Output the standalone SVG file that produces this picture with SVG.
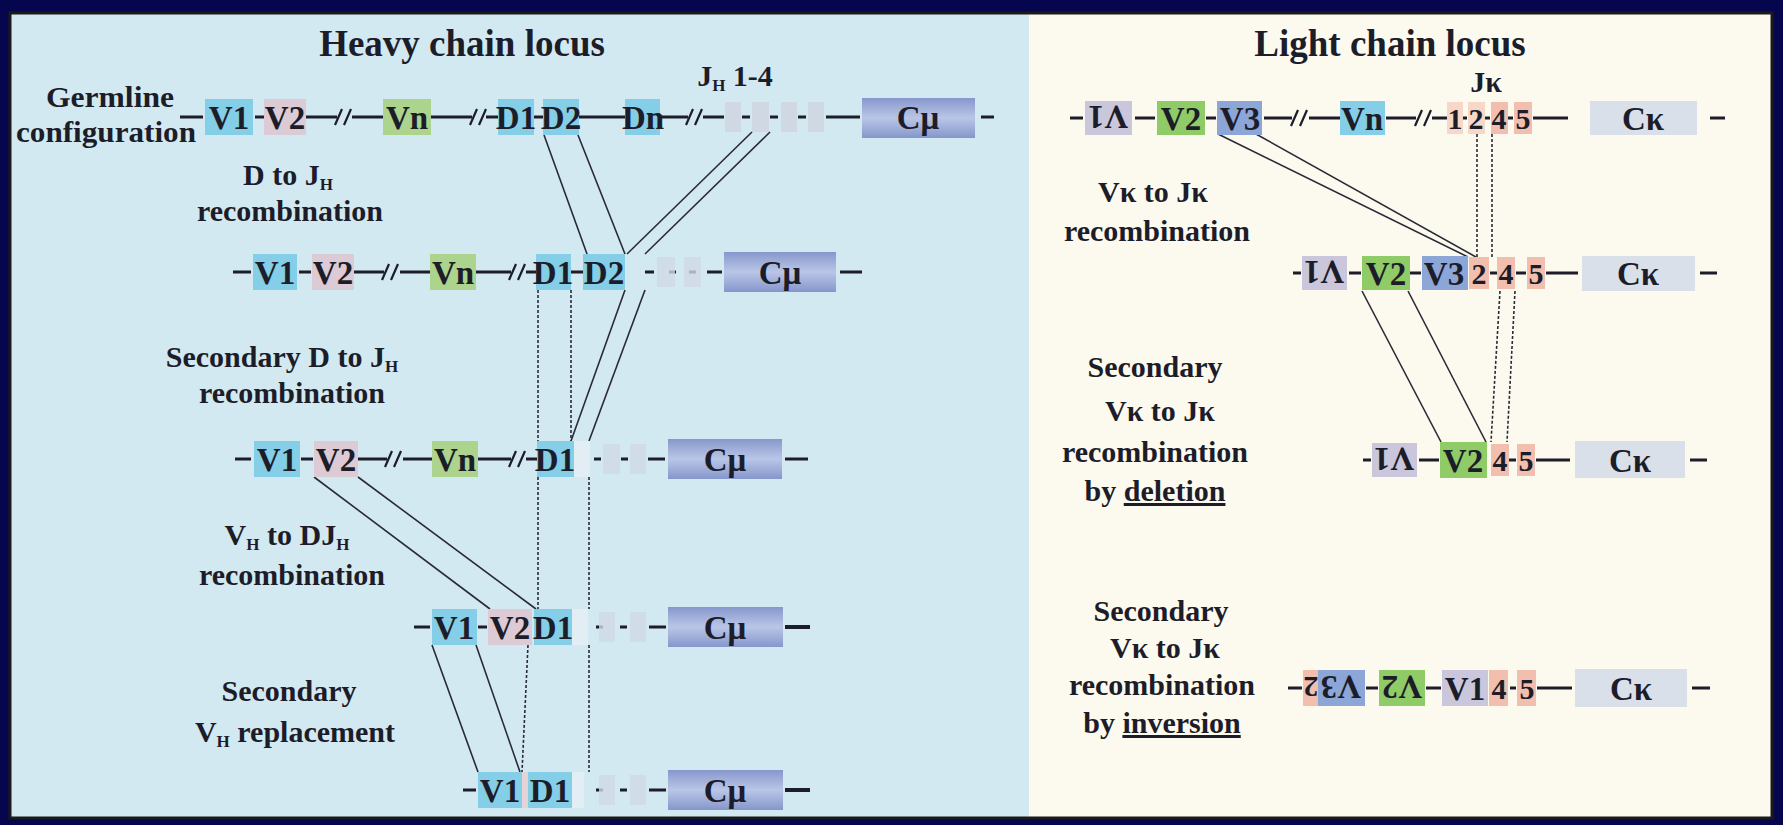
<svg xmlns="http://www.w3.org/2000/svg" xmlns:xlink="http://www.w3.org/1999/xlink" width="1783" height="825" viewBox="0 0 1783 825">
<style>
.bb{stroke:#1d1d2a;stroke-width:3;fill:none}
.cn{stroke:#2a2a36;stroke-width:1.6;fill:none}
.dt{stroke:#2a2a36;stroke-width:1.6;fill:none;stroke-dasharray:3 2}
.el{font-family:"Liberation Serif","Times New Roman",serif;font-weight:bold;font-size:33px;fill:#1d1d2a;text-anchor:middle}
.dg{font-family:"Liberation Serif","Times New Roman",serif;font-weight:bold;font-size:30px;fill:#1d1d2a;text-anchor:middle}
.lb{font-family:"Liberation Serif","Times New Roman",serif;font-weight:bold;font-size:30px;fill:#1d1d2a;text-anchor:middle}
.tt{font-family:"Liberation Serif","Times New Roman",serif;font-weight:bold;font-size:37px;fill:#1d1d2a;text-anchor:middle}
.cy{fill:#84cee7}.pk{fill:#dccbd4}.gn{fill:#acd48c}.jp{fill:#cfd8e3}
.lv{fill:#cac7dc}.lg{fill:#8fcc68}.lbu{fill:#8ca6d8}.jr{fill:#f2bfae}.ck{fill:#d9e0ea}
.cm{fill:url(#gcm)}
</style>
<defs>
<linearGradient id="gcm" x1="0" y1="0" x2="0" y2="1">
<stop offset="0" stop-color="#8797cc"/>
<stop offset="0.5" stop-color="#bac6e7"/>
<stop offset="1" stop-color="#8596cb"/>
</linearGradient>
<path id="sl" d="M-10,8 L-3,-8 M-1,8 L6,-8" stroke="#1d1d2a" stroke-width="2.2" fill="none"/>
</defs>
<rect x="0" y="0" width="1783" height="825" fill="#06064f"/>
<rect x="10" y="13" width="1019" height="805" fill="#d3e9f2"/>
<rect x="1029" y="13" width="743" height="805" fill="#fcf9ef"/>
<rect x="10" y="13" width="1762" height="805" fill="none" stroke="#1a1a1a" stroke-width="3"/>

<g id="titles">
<text class="tt" x="462" y="56">Heavy chain locus</text>
<text class="tt" x="1390" y="56">Light chain locus</text>
</g>

<g id="labels">
<text class="lb" x="110" y="107" font-size="25" textLength="128" lengthAdjust="spacingAndGlyphs">Germline</text>
<text class="lb" x="106" y="142" font-size="25" textLength="180" lengthAdjust="spacingAndGlyphs">configuration</text>
<text class="lb" x="288" y="185">D to J<tspan font-size="17" dy="5">H</tspan></text>
<text class="lb" x="290" y="221">recombination</text>
<text class="lb" x="282" y="367">Secondary D to J<tspan font-size="17" dy="5">H</tspan></text>
<text class="lb" x="292" y="403">recombination</text>
<text class="lb" x="287" y="545">V<tspan font-size="17" dy="5">H</tspan><tspan dy="-5"> to DJ</tspan><tspan font-size="17" dy="5">H</tspan></text>
<text class="lb" x="292" y="585">recombination</text>
<text class="lb" x="289" y="701">Secondary</text>
<text class="lb" x="295" y="742">V<tspan font-size="17" dy="5">H</tspan><tspan dy="-5"> replacement</tspan></text>
<text class="lb" x="735" y="86" text-anchor="start">J<tspan font-size="17" dy="5">H</tspan><tspan dy="-5"> 1-4</tspan></text>
<text class="lb" x="1486" y="92">Jκ</text>
<text class="lb" x="1153" y="202">Vκ to Jκ</text>
<text class="lb" x="1157" y="241">recombination</text>
<text class="lb" x="1155" y="377">Secondary</text>
<text class="lb" x="1160" y="421">Vκ to Jκ</text>
<text class="lb" x="1155" y="462">recombination</text>
<text class="lb" x="1155" y="501">by <tspan style="text-decoration:underline">deletion</tspan></text>
<text class="lb" x="1161" y="621">Secondary</text>
<text class="lb" x="1165" y="658">Vκ to Jκ</text>
<text class="lb" x="1162" y="695">recombination</text>
<text class="lb" x="1162" y="733">by <tspan style="text-decoration:underline">inversion</tspan></text>
</g>

<g id="connectors">
<line class="cn" x1="544" y1="135" x2="587" y2="254"/>
<line class="cn" x1="578" y1="135" x2="625" y2="254"/>
<line class="cn" x1="752" y1="132" x2="627" y2="254"/>
<line class="cn" x1="770" y1="132" x2="645" y2="254"/>
<line class="cn" x1="625" y1="290" x2="571" y2="441"/>
<line class="cn" x1="645" y1="290" x2="589" y2="441"/>
<line class="dt" x1="538" y1="290" x2="538" y2="441"/>
<line class="dt" x1="538" y1="477" x2="538" y2="609"/>
<line class="dt" x1="571" y1="290" x2="571" y2="441"/>
<line class="dt" x1="589" y1="477" x2="589" y2="609"/>
<line class="dt" x1="589" y1="645" x2="589" y2="772"/>
<line class="cn" x1="314" y1="477" x2="490" y2="609"/>
<line class="cn" x1="358" y1="477" x2="536" y2="609"/>
<line class="cn" x1="432" y1="645" x2="478" y2="772"/>
<line class="cn" x1="476" y1="645" x2="520" y2="772"/>
<line class="dt" x1="528" y1="645" x2="522" y2="772"/>
<line class="cn" x1="1218" y1="134" x2="1468" y2="257"/>
<line class="cn" x1="1256" y1="134" x2="1476" y2="257"/>
<line class="dt" x1="1477" y1="134" x2="1477" y2="257"/>
<line class="dt" x1="1492" y1="134" x2="1492" y2="257"/>
<line class="cn" x1="1362" y1="291" x2="1441" y2="442"/>
<line class="cn" x1="1408" y1="291" x2="1486" y2="442"/>
<line class="dt" x1="1500" y1="291" x2="1491" y2="442"/>
<line class="dt" x1="1515" y1="291" x2="1507" y2="442"/>
</g>

<g id="heavy-germline">
<path class="bb" d="M180,117H203 M255,117H264 M306,117H337 M352,117H383 M431,117H472 M486,117H498 M534,117H543 M579,117H625 M660,117H688 M703,117H724 M742,117H750 M770,117H778 M798,117H806 M826,117H860 M981,117H994"/>
<use href="#sl" x="345" y="117"/><use href="#sl" x="480" y="117"/><use href="#sl" x="696" y="117"/>
<g id="g-V1"><rect class="cy" x="205" y="99" width="48" height="36"/><text class="el" x="229" y="129">V1</text></g>
<g id="g-V2"><rect class="pk" x="264" y="99" width="42" height="36"/><text class="el" x="285" y="129">V2</text></g>
<g id="g-Vn"><rect class="gn" x="383" y="99" width="48" height="36"/><text class="el" x="407" y="129">Vn</text></g>
<g id="g-D1"><rect class="cy" x="498" y="99" width="36" height="36"/><text class="el" x="516" y="129" font-size="31">D1</text></g>
<g id="g-D2"><rect class="cy" x="543" y="99" width="36" height="36"/><text class="el" x="561" y="129" font-size="31">D2</text></g>
<g id="g-Dn"><rect class="cy" x="625" y="99" width="35" height="36"/><text class="el" x="643" y="129" font-size="31">Dn</text></g>
<g id="g-J"><rect class="jp" x="725" y="102" width="16" height="30"/><rect class="jp" x="752" y="102" width="17" height="30"/><rect class="jp" x="781" y="102" width="16" height="30"/><rect class="jp" x="808" y="102" width="16" height="30"/></g>
<g id="g-Cmu"><rect class="cm" x="862" y="98" width="113" height="40"/><text class="el" x="918" y="129">Cμ</text></g>
</g>

<g id="heavy-DJ">
<path class="bb" d="M233,272H251 M299,272H311 M354,272H384 M400,272H430 M476,272H511 M526,272H536 M571,272H583 M645,272H654 M669,272H676 M689,272H696 M707,272H722 M840,272H862"/>
<use href="#sl" x="392" y="272"/><use href="#sl" x="519" y="272"/>
<g id="dj-V1"><rect class="cy" x="253" y="254" width="44" height="36"/><text class="el" x="275" y="284">V1</text></g>
<g id="dj-V2"><rect class="pk" x="312" y="254" width="42" height="36"/><text class="el" x="333" y="284">V2</text></g>
<g id="dj-Vn"><rect class="gn" x="430" y="254" width="46" height="36"/><text class="el" x="453" y="284">Vn</text></g>
<g id="dj-D1"><rect class="cy" x="536" y="254" width="35" height="36"/><text class="el" x="553" y="284" font-size="31">D1</text></g>
<g id="dj-D2"><rect class="cy" x="583" y="254" width="42" height="36"/><text class="el" x="604" y="284" font-size="31">D2</text></g>
<g id="dj-J"><rect class="jp" x="657" y="257" width="18" height="30" opacity="0.8"/><rect class="jp" x="684" y="257" width="17" height="30" opacity="0.8"/></g>
<g id="dj-Cmu"><rect class="cm" x="724" y="252" width="112" height="40"/><text class="el" x="780" y="284">Cμ</text></g>
</g>

<g id="heavy-secDJ">
<path class="bb" d="M235,459H251 M301,459H313 M358,459H387 M403,459H432 M478,459H511 M526,459H537 M594,459H601 M621,459H628 M648,459H665 M785,459H808"/>
<use href="#sl" x="395" y="459"/><use href="#sl" x="519" y="459"/>
<g id="s-V1"><rect class="cy" x="254" y="441" width="46" height="36"/><text class="el" x="277" y="471">V1</text></g>
<g id="s-V2"><rect class="pk" x="314" y="441" width="44" height="36"/><text class="el" x="336" y="471">V2</text></g>
<g id="s-Vn"><rect class="gn" x="432" y="441" width="46" height="36"/><text class="el" x="455" y="471">Vn</text></g>
<g id="s-D1"><rect class="cy" x="537" y="441" width="37" height="36"/><rect x="574" y="441" width="16" height="36" fill="#e3eef4"/><text class="el" x="555" y="471" font-size="31">D1</text></g>
<g id="s-J"><rect class="jp" x="603" y="444" width="17" height="30" opacity="0.8"/><rect class="jp" x="630" y="444" width="16" height="30" opacity="0.8"/></g>
<g id="s-Cmu"><rect class="cm" x="668" y="439" width="114" height="40"/><text class="el" x="725" y="471">Cμ</text></g>
</g>

<g id="heavy-VDJ">
<path class="bb" d="M414,627H430 M478,627H487 M596,627H603 M620,627H627 M649,627H666"/>
<path d="M785,627H810" stroke="#1d1d2a" stroke-width="4"/>
<g id="v-V1"><rect class="cy" x="432" y="609" width="45" height="36"/><text class="el" x="454" y="639">V1</text></g>
<g id="v-V2"><rect class="pk" x="488" y="609" width="44" height="36"/><text class="el" x="510" y="639">V2</text></g>
<g id="v-D1"><rect class="cy" x="534" y="609" width="38" height="36"/><rect x="572" y="609" width="16" height="36" fill="#e3eef4"/><text class="el" x="553" y="639" font-size="31">D1</text></g>
<g id="v-J"><rect class="jp" x="599" y="612" width="16" height="30" opacity="0.8"/><rect class="jp" x="630" y="612" width="16" height="30" opacity="0.8"/></g>
<g id="v-Cmu"><rect class="cm" x="668" y="607" width="115" height="40"/><text class="el" x="725" y="639">Cμ</text></g>
</g>

<g id="heavy-replace">
<path class="bb" d="M463,790H476 M596,790H603 M620,790H627 M649,790H666"/>
<path d="M785,790H810" stroke="#1d1d2a" stroke-width="4"/>
<g id="r-V1"><rect class="cy" x="478" y="772" width="44" height="36"/><text class="el" x="500" y="802">V1</text></g>
<rect x="522" y="772" width="6" height="36" fill="#e6d3d8"/>
<g id="r-D1"><rect class="cy" x="528" y="772" width="44" height="36"/><rect x="572" y="772" width="12" height="36" fill="#e3eef4"/><text class="el" x="550" y="802" font-size="31">D1</text></g>
<g id="r-J"><rect class="jp" x="599" y="775" width="16" height="30" opacity="0.8"/><rect class="jp" x="630" y="775" width="16" height="30" opacity="0.8"/></g>
<g id="r-Cmu"><rect class="cm" x="668" y="770" width="115" height="40"/><text class="el" x="725" y="802">Cμ</text></g>
</g>

<g id="light-germline">
<path class="bb" d="M1070,118H1083 M1135,118H1155 M1206,118H1216 M1264,118H1292 M1309,118H1340 M1386,118H1416 M1432,118H1447 M1463,118H1467 M1485,118H1490 M1508,118H1513 M1533,118H1568 M1710,118H1725"/>
<use href="#sl" x="1301" y="118"/><use href="#sl" x="1425" y="118"/>
<g id="k-V1inv"><rect class="lv" x="1085" y="101" width="47" height="34"/><text class="el" x="1108" y="130" transform="rotate(180 1108 118)">V1</text></g>
<g id="k-V2"><rect class="lg" x="1157" y="101" width="48" height="34"/><text class="el" x="1181" y="130">V2</text></g>
<g id="k-V3"><rect class="lbu" x="1217" y="101" width="45" height="34"/><text class="el" x="1240" y="130">V3</text></g>
<g id="k-Vn"><rect class="cy" x="1340" y="101" width="45" height="34"/><text class="el" x="1362" y="130">Vn</text></g>
<g id="k-J1"><rect class="jr" x="1447" y="102" width="16" height="32" opacity="0.6"/><text class="dg" x="1455" y="129">1</text></g>
<g id="k-J2"><rect class="jr" x="1468" y="102" width="17" height="32" opacity="0.6"/><text class="dg" x="1476" y="129">2</text></g>
<g id="k-J4"><rect class="jr" x="1491" y="102" width="17" height="32"/><text class="dg" x="1499" y="129">4</text></g>
<g id="k-J5"><rect class="jr" x="1514" y="102" width="18" height="32"/><text class="dg" x="1523" y="129">5</text></g>
<g id="k-Ck"><rect class="ck" x="1590" y="101" width="107" height="34"/><text class="el" x="1643" y="130">Cκ</text></g>
</g>

<g id="light-VJ">
<path class="bb" d="M1293,273H1301 M1349,273H1361 M1410,273H1421 M1490,273H1497 M1516,273H1526 M1546,273H1578 M1700,273H1717"/>
<g id="l2-V1inv"><rect class="lv" x="1302" y="256" width="45" height="34"/><text class="el" x="1324" y="285" transform="rotate(180 1324 273)">V1</text></g>
<g id="l2-V2"><rect class="lg" x="1362" y="256" width="48" height="34"/><text class="el" x="1386" y="285">V2</text></g>
<g id="l2-V3"><rect class="lbu" x="1422" y="256" width="46" height="34"/><text class="el" x="1444" y="285">V3</text></g>
<g id="l2-J2"><rect class="jr" x="1469" y="257" width="20" height="32" fill="#f0b898"/><text class="dg" x="1479" y="284">2</text></g>
<g id="l2-J4"><rect class="jr" x="1497" y="257" width="18" height="32"/><text class="dg" x="1506" y="284">4</text></g>
<g id="l2-J5"><rect class="jr" x="1527" y="257" width="18" height="32"/><text class="dg" x="1536" y="284">5</text></g>
<g id="l2-Ck"><rect class="ck" x="1582" y="256" width="113" height="35"/><text class="el" x="1638" y="285">Cκ</text></g>
</g>

<g id="light-deletion">
<path class="bb" d="M1363,460H1371 M1419,460H1439 M1509,460H1516 M1536,460H1570 M1690,460H1707"/>
<g id="l3-V1inv"><rect class="lv" x="1372" y="443" width="45" height="34"/><text class="el" x="1394" y="472" transform="rotate(180 1394 460)">V1</text></g>
<g id="l3-V2"><rect class="lg" x="1440" y="442" width="47" height="36"/><text class="el" x="1463" y="472">V2</text></g>
<g id="l3-J4"><rect class="jr" x="1491" y="444" width="18" height="32"/><text class="dg" x="1500" y="471">4</text></g>
<g id="l3-J5"><rect class="jr" x="1517" y="444" width="18" height="32"/><text class="dg" x="1526" y="471">5</text></g>
<g id="l3-Ck"><rect class="ck" x="1575" y="441" width="110" height="37"/><text class="el" x="1630" y="472">Cκ</text></g>
</g>

<g id="light-inversion">
<path class="bb" d="M1288,688H1302 M1366,688H1378 M1426,688H1441 M1510,688H1516 M1537,688H1572 M1692,688H1710"/>
<g id="l4-J2inv"><rect class="jr" x="1303" y="670" width="15" height="36"/><text class="dg" x="1311" y="699" transform="rotate(180 1311 688)">2</text></g>
<g id="l4-V3inv"><rect class="lbu" x="1318" y="670" width="47" height="36"/><text class="el" x="1341" y="700" transform="rotate(180 1341 688)">V3</text></g>
<g id="l4-V2inv"><rect class="lg" x="1379" y="670" width="46" height="36"/><text class="el" x="1402" y="700" transform="rotate(180 1402 688)">V2</text></g>
<g id="l4-V1"><rect class="lv" x="1442" y="670" width="46" height="36"/><text class="el" x="1465" y="700">V1</text></g>
<g id="l4-J4"><rect class="jr" x="1489" y="670" width="19" height="36"/><text class="dg" x="1499" y="699">4</text></g>
<g id="l4-J5"><rect class="jr" x="1517" y="670" width="19" height="36"/><text class="dg" x="1527" y="699">5</text></g>
<g id="l4-Ck"><rect class="ck" x="1575" y="669" width="112" height="38"/><text class="el" x="1631" y="700">Cκ</text></g>
</g>
</svg>
